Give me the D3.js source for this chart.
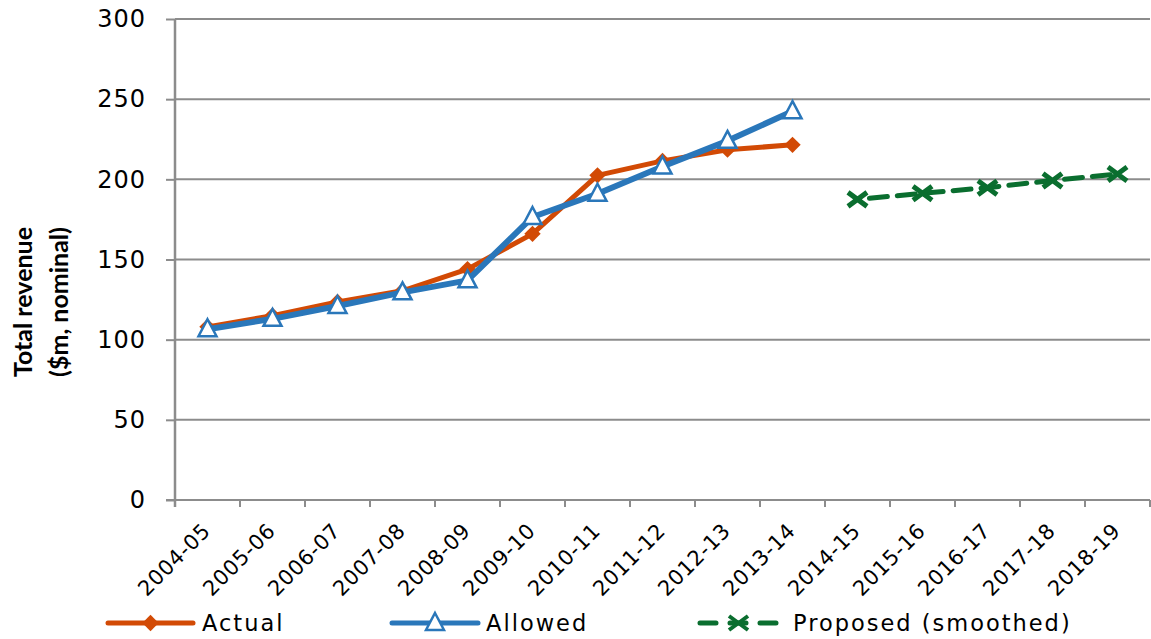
<!DOCTYPE html>
<html>
<head>
<meta charset="utf-8">
<script src="https://cdn.jsdelivr.net/npm/d3@7"></script>
<style>
  html, body { margin: 0; padding: 0; background: #fff; }
  svg { display: block; }
</style>
</head>
<body>
<svg id="chart" width="1151" height="639"></svg>
<script>
// Financial years on the category axis
const years = ["2004-05","2005-06","2006-07","2007-08","2008-09","2009-10","2010-11",
  "2011-12","2012-13","2013-14","2014-15","2015-16","2016-17","2017-18","2018-19"];

// Total revenue, $m nominal
const actual   = [108, 115, 123.5, 130.5, 144, 166, 202.5, 211.5, 218.5, 221.5];
const allowed  = [106.5, 113, 121, 129.5, 137, 176.5, 191, 208, 224, 242.5];
const proposedYears = ["2014-15","2015-16","2016-17","2017-18","2018-19"];
const proposed = [187.5, 191.3, 194.8, 199.3, 203.3];

const yTicks = [0, 50, 100, 150, 200, 250, 300];

const colors = { actual: "#D24A05", allowed: "#2A77BA", proposed: "#0A6E2F", grid: "#8C8C8C" };

const svg = d3.select("#chart");
const plotLeft = 175, plotRight = 1150, plotTop = 19, plotBottom = 500;

const x = d3.scaleBand().domain(years).range([plotLeft, plotRight]).padding(0);
const cx = d => x(d) + x.bandwidth() / 2;
const y = d3.scaleLinear().domain([0, 300]).range([plotBottom, plotTop]);

const fontMain = "'DejaVu Sans', Verdana, sans-serif";

// Horizontal gridlines with left tick marks and labels
const yAxis = d3.axisLeft(y).tickValues(yTicks).tickSize(9).tickPadding(20);
const gy = svg.append("g").attr("transform", `translate(${plotLeft},0)`).call(yAxis);
gy.select(".domain").remove();
gy.selectAll(".tick line").attr("stroke", colors.grid).attr("stroke-width", 2);
gy.selectAll(".tick text")
  .attr("fill", "#000").style("font-family", fontMain).style("font-size", "24px")
  .style("letter-spacing", "1px");

svg.append("g").selectAll("line").data(yTicks.filter(v => v > 0)).join("line")
  .attr("x1", plotLeft).attr("x2", plotRight)
  .attr("y1", d => y(d)).attr("y2", d => y(d))
  .attr("stroke", colors.grid).attr("stroke-width", 2);

// Category axis: tick marks sit between categories
const boundaries = years.map(d => x(d)).concat([plotRight]);
svg.append("g").selectAll("line").data(boundaries).join("line")
  .attr("x1", d => d).attr("x2", d => d)
  .attr("y1", plotBottom).attr("y2", plotBottom + 7)
  .attr("stroke", colors.grid).attr("stroke-width", 2);
svg.append("line").attr("x1", plotLeft - 9).attr("x2", plotRight)
  .attr("y1", plotBottom).attr("y2", plotBottom)
  .attr("stroke", colors.grid).attr("stroke-width", 2);
svg.append("line").attr("x1", plotLeft).attr("x2", plotLeft)
  .attr("y1", plotTop).attr("y2", plotBottom + 7)
  .attr("stroke", colors.grid).attr("stroke-width", 2.5);

svg.append("g").selectAll("text").data(years).join("text")
  .attr("transform", d => `translate(${cx(d) - 1},${plotBottom + 27}) rotate(-45)`)
  .attr("text-anchor", "end")
  .attr("dy", "0.35em")
  .style("font-family", fontMain).style("font-size", "21px")
  .style("letter-spacing", "0.6px")
  .text(d => d);

// Axis title
const title = svg.append("text")
  .attr("transform", `translate(32,302) rotate(-90)`)
  .attr("text-anchor", "middle")
  .style("font-family", "Lato, 'Open Sans', sans-serif")
  .style("font-weight", "bold").style("font-size", "25px");
title.append("tspan").attr("x", 0).attr("dy", 0).text("Total revenue");
title.append("tspan").attr("x", 0).attr("dy", 36).text("($m, nominal)");

const line = d3.line().x(d => cx(d.year)).y(d => y(d.value));

const actualPts = actual.map((v, i) => ({ year: years[i], value: v }));
const allowedPts = allowed.map((v, i) => ({ year: years[i], value: v }));
const proposedPts = proposed.map((v, i) => ({ year: proposedYears[i], value: v }));

const diamond = d3.symbol().type(d3.symbolDiamond2).size(170);
const triangle = "M0,-10 L9,7 L-9,7 Z";
const cross = "M-9.5,-7 L9.5,7 M-9.5,7 L9.5,-7";

// Actual
svg.append("path").datum(actualPts).attr("d", line)
  .attr("fill", "none").attr("stroke", colors.actual).attr("stroke-width", 5)
  .attr("stroke-linejoin", "round");
svg.append("g").selectAll("path").data(actualPts).join("path")
  .attr("transform", d => `translate(${cx(d.year)},${y(d.value)})`)
  .attr("d", diamond).attr("fill", colors.actual);

// Allowed
svg.append("path").datum(allowedPts).attr("d", line)
  .attr("fill", "none").attr("stroke", colors.allowed).attr("stroke-width", 6)
  .attr("stroke-linejoin", "round");
svg.append("g").selectAll("path").data(allowedPts).join("path")
  .attr("transform", d => `translate(${cx(d.year)},${y(d.value)})`)
  .attr("d", triangle).attr("fill", "#fff").attr("stroke", colors.allowed).attr("stroke-width", 2.5);

// Proposed (smoothed)
svg.append("path").datum(proposedPts).attr("d", line)
  .attr("fill", "none").attr("stroke", colors.proposed).attr("stroke-width", 5)
  .attr("stroke-dasharray", "18,10").attr("stroke-dashoffset", -12)
  .attr("stroke-linecap", "round");
svg.append("g").selectAll("path").data(proposedPts).join("path")
  .attr("transform", d => `translate(${cx(d.year)},${y(d.value)})`)
  .attr("d", cross).attr("fill", "none").attr("stroke", colors.proposed)
  .attr("stroke-width", 5).attr("stroke-linecap", "butt");

// Legend
const legendY = 623;
const legend = [
  { label: "Actual", x0: 108, x1: 193, tx: 202, color: colors.actual, kind: "diamond" },
  { label: "Allowed", x0: 392, x1: 478, tx: 486, color: colors.allowed, kind: "triangle" },
  { label: "Proposed (smoothed)", x0: 700, x1: 777, tx: 793, color: colors.proposed, kind: "cross" }
];
const lg = svg.append("g").selectAll("g").data(legend).join("g");
lg.append("line")
  .attr("x1", d => d.x0).attr("x2", d => d.x1).attr("y1", legendY).attr("y2", legendY)
  .attr("stroke", d => d.color).attr("stroke-width", 5).attr("stroke-linecap", "round")
  .attr("stroke-dasharray", d => d.kind === "cross" ? "16,14" : null);
lg.append("path")
  .attr("transform", d => `translate(${(d.x0 + d.x1) / 2},${legendY})`)
  .attr("d", d => d.kind === "diamond" ? diamond() : d.kind === "triangle" ? triangle : cross)
  .attr("fill", d => d.kind === "diamond" ? d.color : d.kind === "triangle" ? "#fff" : "none")
  .attr("stroke", d => d.kind === "diamond" ? "none" : d.color)
  .attr("stroke-width", d => d.kind === "cross" ? 4 : 2.5);
lg.append("text")
  .attr("x", d => d.tx).attr("y", legendY).attr("dy", "0.36em")
  .style("font-family", fontMain).style("font-size", "22.5px").style("letter-spacing", "2px")
  .text(d => d.label);
</script>
</body>
</html>
